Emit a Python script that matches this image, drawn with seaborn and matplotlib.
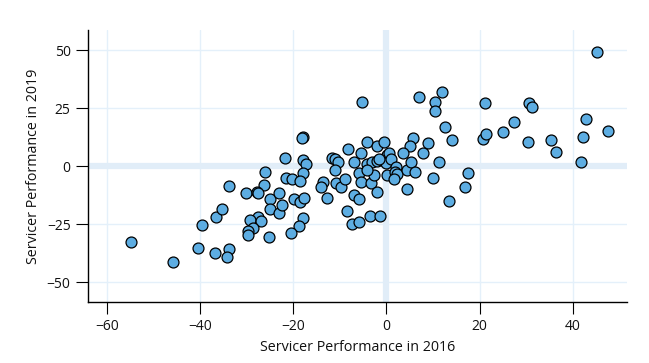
import pandas as pd
import matplotlib.pyplot as plt
import seaborn as sns

# servicer performance values
perf_2016 = [
    -54.7, -45.7, -40.5, -39.6, -36.8, -36.5, -35.3, -33.8, -33.8, -34.2,
    -26.0, -26.3, -30.1, -27.7, -27.6, -25.0, -24.9, -23.0, -23.0, -27.5,
    -29.3, -26.9, -28.7, -29.8, -29.6, -25.1, -18.0, -18.2, -21.7, -18.0,
    -17.2, -17.8, -21.6, -20.2, -18.5, -22.5, -19.8, -18.5, -17.7, -17.9,
    -18.7, -20.5, -13.6, -14.1, -12.8, -11.6, -11.0, -10.5, -11.0, -10.9,
    -9.8, -9.0, -8.3, -7.0, -5.4, -4.1, -2.1, -0.6, -5.9, -5.4,
    -7.0, -6.0, -8.5, -3.4, -2.7, -2.0, -7.3, -5.9, -3.6, -1.4,
    -4.1, -3.1, -2.0, -0.9, 0.1, -0.2, -4.1, 0.1, 12.6, 14.0,
    20.7, 21.4, 9.0, 5.7, 5.0, 3.6, 7.8, 0.6, 1.0, -1.6,
    2.1, 1.9, 2.3, 4.3, 5.3, 6.1, 11.2, 1.6, 4.3, 10.0,
    17.5, 16.9, 13.3, -5.2, 6.9, 11.8, 10.3, 10.5, 21.2, 30.6,
    31.3, 42.7, 47.4, 27.4, 24.9, 30.3, 35.2, 36.3, 42.2, 41.7,
    45.1,
]
perf_2019 = [
    -32.9, -41.2, -35.3, -25.6, -37.4, -22.1, -18.5, -8.6, -35.6, -39.4,
    -2.7, -8.2, -11.8, -11.1, -11.8, -14.4, -18.7, -11.8, -20.4, -22.1,
    -23.4, -23.8, -26.9, -28.0, -29.9, -30.7, 12.6, 12.0, 3.3, 2.6,
    0.9, -2.9, -5.3, -5.6, -6.5, -16.8, -14.4, -15.4, -13.9, -22.5,
    -25.9, -29.0, -6.8, -8.9, -13.7, 3.6, 3.0, 1.9, -1.7, -7.5,
    -9.2, -5.7, 7.2, 1.9, 5.5, 10.5, 8.8, 10.2, -3.1, -6.8,
    -12.5, -14.2, -19.3, -7.5, -3.9, -11.1, -25.0, -24.0, -21.6, -21.4,
    0.7, 1.9, 2.3, 2.6, 4.7, 1.2, -1.7, -3.9, 16.9, 11.2,
    11.6, 13.8, 10.0, 11.9, 8.6, 5.5, 5.5, 5.5, 2.9, 2.9,
    -0.3, -2.4, -3.4, -1.7, 1.7, -2.4, 1.6, -5.7, -9.9, -5.3,
    -3.1, -9.2, -14.9, 27.5, 29.9, 32.0, 27.5, 23.7, 27.0, 27.0,
    25.6, 20.1, 15.2, 19.1, 14.5, 10.2, 11.2, 6.2, 12.4, 1.9,
    49.0,
]
x_ticks = [-60, -40, -20, 0, 20, 40]
y_ticks = [-50, -25, 0, 25, 50]

df = pd.DataFrame({'x': perf_2016, 'y': perf_2019})

sns.set_style("white")
plt.rcParams['font.family'] = ['Open Sans', 'DejaVu Sans']

fig = plt.figure(figsize=(6.49, 3.63), dpi=100)
ax = fig.add_axes([0.1356, 0.168, 0.83, 0.749])

grid_col = '#e4f0fa'
for t in x_ticks:
    ax.axvline(t, color=grid_col, lw=1, zorder=0)
for t in y_ticks:
    ax.axhline(t, color=grid_col, lw=1, zorder=0)
# thick zero bands
ax.axvline(0, color='#e1edf8', lw=4.5, zorder=0.5)
ax.axhline(0, color='#e1edf8', lw=4.5, zorder=0.5)

sns.scatterplot(data=df, x='x', y='y', ax=ax, s=62, color='#5dade2',
                edgecolor='black', linewidth=0.9, zorder=3)

ax.set_xlim(-64, 51.5)
ax.set_ylim(-58.6, 58.6)
ax.set_xticks(x_ticks)
ax.set_yticks(y_ticks)

for side in ['top', 'right']:
    ax.spines[side].set_visible(False)
for side in ['left', 'bottom']:
    ax.spines[side].set_color('black')
    ax.spines[side].set_linewidth(1)

ax.tick_params(axis='both', direction='out', length=8.5, width=0.8,
               color='black', labelsize=10, labelcolor='#111111',
               left=True, bottom=True, pad=4)
ax.set_xlabel('Servicer Performance in 2016', fontsize=10.3, color='#111111')
ax.set_ylabel('Servicer Performance in 2019', fontsize=10.3, color='#111111')

fig.savefig('out.png', dpi=100)
